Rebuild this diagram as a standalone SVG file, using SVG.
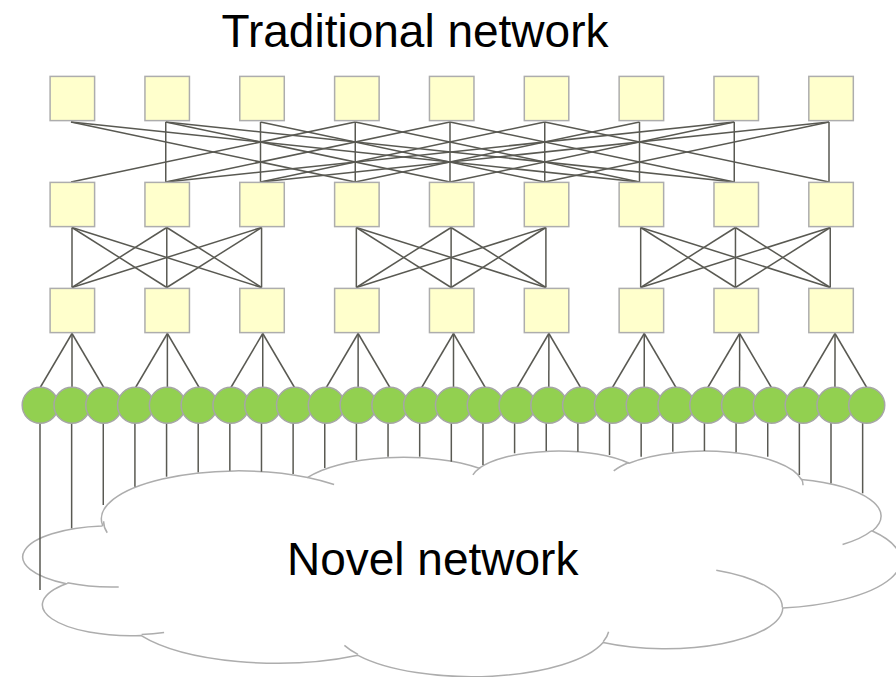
<svg xmlns="http://www.w3.org/2000/svg" width="896" height="677" viewBox="0 0 896 677">
  <style>
    .sw { fill: #FFFFCC; stroke: #ADADAD; stroke-width: 1.5; }
    .host { fill: #92D050; stroke: #A6A6A6; stroke-width: 1.5; }
    .wire line { stroke: #595952; stroke-width: 1.5; fill: none; }
    .cloud { fill: #FFFFFF; stroke: #ADADAD; stroke-width: 1.5; vector-effect: non-scaling-stroke; }
    .cloudline { fill: none; stroke: #ADADAD; stroke-width: 1.5; vector-effect: non-scaling-stroke; }
    .label { font-family: "Liberation Sans", Arial, sans-serif; font-size: 46px; fill: #000000; text-anchor: middle; }
  </style>

  <text class="label" x="415" y="47">Traditional network</text>

  <!-- cloud (drawn in a 43200 x 43200 unit box) -->
  <g id="novel-network">
    <g transform="matrix(0.0203 0 0 0.005222 23.45 450.3)">
      <path class="cloud" d="M 3900 14370 A 6753 9190 0 0 1 14004 5200 A 5333 7267 0 0 1 22455 3429 A 4365 5945 0 0 1 29832 2477 A 4857 6595 0 0 1 38317 5572 A 5333 7273 0 0 1 41818 15456 A 6775 9220 0 0 1 37404 30200 A 5785 7867 0 0 1 28555 36810 A 6752 9215 0 0 1 16480 39263 A 7720 10543 0 0 1 5801 35470 A 4360 5918 0 0 1 2112 25545 A 4345 5945 0 0 1 3862 14502 Z"/>
      <path class="cloudline" d="M 4693 26177 A 4345 5945 0 0 1 2160 25380 M 6928 34899 A 4360 5918 0 0 1 5818 35282 M 16478 39090 A 6752 9215 0 0 1 15810 37349 M 28827 34751 A 6752 9215 0 0 1 28560 36660 M 34129 22954 A 5785 7867 0 0 1 37381 30089 M 41798 15354 A 5333 7273 0 0 1 40350 18029 M 38324 5426 A 4857 6595 0 0 1 38401 6690 M 29078 3952 A 4857 6595 0 0 1 29821 2338 M 22141 4720 A 4365 5945 0 0 1 22500 3331 M 14000 5192 A 6753 9190 0 0 1 15303 6544 M 4127 15789 A 6753 9190 0 0 1 3953 13580"/>
    </g>
    <text class="label" x="432.7" y="575">Novel network</text>
  </g>

  <g id="connectors" class="wire">
    <!-- core to aggregation -->
    <line x1="71" y1="122" x2="355.25" y2="182"/>
    <line x1="71" y1="122" x2="639.5" y2="182"/>
    <line x1="165.75" y1="122" x2="165.75" y2="182"/>
    <line x1="165.75" y1="122" x2="450" y2="182"/>
    <line x1="165.75" y1="122" x2="734.25" y2="182"/>
    <line x1="260.5" y1="122" x2="260.5" y2="182"/>
    <line x1="260.5" y1="122" x2="544.75" y2="182"/>
    <line x1="355.25" y1="122" x2="71" y2="182"/>
    <line x1="355.25" y1="122" x2="355.25" y2="182"/>
    <line x1="355.25" y1="122" x2="639.5" y2="182"/>
    <line x1="450" y1="122" x2="165.75" y2="182"/>
    <line x1="450" y1="122" x2="450" y2="182"/>
    <line x1="450" y1="122" x2="734.25" y2="182"/>
    <line x1="544.75" y1="122" x2="260.5" y2="182"/>
    <line x1="544.75" y1="122" x2="544.75" y2="182"/>
    <line x1="544.75" y1="122" x2="829" y2="182"/>
    <line x1="639.5" y1="122" x2="355.25" y2="182"/>
    <line x1="639.5" y1="122" x2="639.5" y2="182"/>
    <line x1="734.25" y1="122" x2="165.75" y2="182"/>
    <line x1="734.25" y1="122" x2="450" y2="182"/>
    <line x1="734.25" y1="122" x2="734.25" y2="182"/>
    <line x1="829" y1="122" x2="260.5" y2="182"/>
    <line x1="829" y1="122" x2="544.75" y2="182"/>
    <line x1="829" y1="122" x2="829" y2="182"/>

    <!-- aggregation to edge, pod 1 -->
    <line x1="72" y1="227.5" x2="72" y2="287.5"/>
    <line x1="72" y1="227.5" x2="166.78" y2="287.5"/>
    <line x1="72" y1="227.5" x2="261.56" y2="287.5"/>
    <line x1="166.78" y1="227.5" x2="72" y2="287.5"/>
    <line x1="166.78" y1="227.5" x2="166.78" y2="287.5"/>
    <line x1="166.78" y1="227.5" x2="261.56" y2="287.5"/>
    <line x1="261.56" y1="227.5" x2="72" y2="287.5"/>
    <line x1="261.56" y1="227.5" x2="166.78" y2="287.5"/>
    <line x1="261.56" y1="227.5" x2="261.56" y2="287.5"/>
    <!-- pod 2 -->
    <line x1="356.34" y1="227.5" x2="356.34" y2="287.5"/>
    <line x1="356.34" y1="227.5" x2="451.12" y2="287.5"/>
    <line x1="356.34" y1="227.5" x2="545.9" y2="287.5"/>
    <line x1="451.12" y1="227.5" x2="356.34" y2="287.5"/>
    <line x1="451.12" y1="227.5" x2="451.12" y2="287.5"/>
    <line x1="451.12" y1="227.5" x2="545.9" y2="287.5"/>
    <line x1="545.9" y1="227.5" x2="356.34" y2="287.5"/>
    <line x1="545.9" y1="227.5" x2="451.12" y2="287.5"/>
    <line x1="545.9" y1="227.5" x2="545.9" y2="287.5"/>
    <!-- pod 3 -->
    <line x1="640.68" y1="227.5" x2="640.68" y2="287.5"/>
    <line x1="640.68" y1="227.5" x2="735.46" y2="287.5"/>
    <line x1="640.68" y1="227.5" x2="830.24" y2="287.5"/>
    <line x1="735.46" y1="227.5" x2="640.68" y2="287.5"/>
    <line x1="735.46" y1="227.5" x2="735.46" y2="287.5"/>
    <line x1="735.46" y1="227.5" x2="830.24" y2="287.5"/>
    <line x1="830.24" y1="227.5" x2="640.68" y2="287.5"/>
    <line x1="830.24" y1="227.5" x2="735.46" y2="287.5"/>
    <line x1="830.24" y1="227.5" x2="830.24" y2="287.5"/>

    <!-- edge to hosts -->
    <line x1="72" y1="333.5" x2="40.2" y2="387.5"/>
    <line x1="72" y1="333.5" x2="71.99" y2="387.5"/>
    <line x1="72" y1="333.5" x2="103.78" y2="387.5"/>
    <line x1="167.375" y1="333.5" x2="135.57" y2="387.5"/>
    <line x1="167.375" y1="333.5" x2="167.36" y2="387.5"/>
    <line x1="167.375" y1="333.5" x2="199.15" y2="387.5"/>
    <line x1="262.75" y1="333.5" x2="230.94" y2="387.5"/>
    <line x1="262.75" y1="333.5" x2="262.73" y2="387.5"/>
    <line x1="262.75" y1="333.5" x2="294.52" y2="387.5"/>
    <line x1="358.125" y1="333.5" x2="326.31" y2="387.5"/>
    <line x1="358.125" y1="333.5" x2="358.1" y2="387.5"/>
    <line x1="358.125" y1="333.5" x2="389.89" y2="387.5"/>
    <line x1="453.5" y1="333.5" x2="421.68" y2="387.5"/>
    <line x1="453.5" y1="333.5" x2="453.47" y2="387.5"/>
    <line x1="453.5" y1="333.5" x2="485.26" y2="387.5"/>
    <line x1="548.875" y1="333.5" x2="517.05" y2="387.5"/>
    <line x1="548.875" y1="333.5" x2="548.84" y2="387.5"/>
    <line x1="548.875" y1="333.5" x2="580.63" y2="387.5"/>
    <line x1="644.25" y1="333.5" x2="612.42" y2="387.5"/>
    <line x1="644.25" y1="333.5" x2="644.21" y2="387.5"/>
    <line x1="644.25" y1="333.5" x2="676" y2="387.5"/>
    <line x1="739.625" y1="333.5" x2="707.79" y2="387.5"/>
    <line x1="739.625" y1="333.5" x2="739.58" y2="387.5"/>
    <line x1="739.625" y1="333.5" x2="771.37" y2="387.5"/>
    <line x1="835" y1="333.5" x2="803.16" y2="387.5"/>
    <line x1="835" y1="333.5" x2="834.95" y2="387.5"/>
    <line x1="835" y1="333.5" x2="866.74" y2="387.5"/>

    <!-- hosts down to the cloud -->
    <line x1="40" y1="415" x2="40" y2="590"/>
    <line x1="71.64" y1="415" x2="71.64" y2="528.3"/>
    <line x1="103.28" y1="415" x2="103.28" y2="505"/>
    <line x1="134.92" y1="415" x2="134.92" y2="486.7"/>
    <line x1="166.56" y1="415" x2="166.56" y2="476.7"/>
    <line x1="198.2" y1="415" x2="198.2" y2="472.3"/>
    <line x1="229.84" y1="415" x2="229.84" y2="470.7"/>
    <line x1="261.48" y1="415" x2="261.48" y2="471.7"/>
    <line x1="293.12" y1="415" x2="293.12" y2="474"/>
    <line x1="324.76" y1="415" x2="324.76" y2="468"/>
    <line x1="356.4" y1="415" x2="356.4" y2="460"/>
    <line x1="388.04" y1="415" x2="388.04" y2="456.7"/>
    <line x1="419.68" y1="415" x2="419.68" y2="456.7"/>
    <line x1="451.32" y1="415" x2="451.32" y2="461.7"/>
    <line x1="482.96" y1="415" x2="482.96" y2="465"/>
    <line x1="514.6" y1="415" x2="514.6" y2="453.3"/>
    <line x1="546.24" y1="415" x2="546.24" y2="451"/>
    <line x1="577.88" y1="415" x2="577.88" y2="451.7"/>
    <line x1="609.52" y1="415" x2="609.52" y2="455"/>
    <line x1="641.16" y1="415" x2="641.16" y2="456.7"/>
    <line x1="672.8" y1="415" x2="672.8" y2="451.7"/>
    <line x1="704.44" y1="415" x2="704.44" y2="451"/>
    <line x1="736.08" y1="415" x2="736.08" y2="452.3"/>
    <line x1="767.72" y1="415" x2="767.72" y2="456.7"/>
    <line x1="799.36" y1="415" x2="799.36" y2="475"/>
    <line x1="831" y1="415" x2="831" y2="483.3"/>
    <line x1="862.64" y1="415" x2="862.64" y2="493.3"/>
  </g>

  <!-- core switches -->
  <g id="core-1"><rect class="sw" x="50.1" y="76.4" width="44.5" height="44.2"/></g>
  <g id="core-2"><rect class="sw" x="144.94" y="76.4" width="44.5" height="44.2"/></g>
  <g id="core-3"><rect class="sw" x="239.78" y="76.4" width="44.5" height="44.2"/></g>
  <g id="core-4"><rect class="sw" x="334.62" y="76.4" width="44.5" height="44.2"/></g>
  <g id="core-5"><rect class="sw" x="429.46" y="76.4" width="44.5" height="44.2"/></g>
  <g id="core-6"><rect class="sw" x="524.3" y="76.4" width="44.5" height="44.2"/></g>
  <g id="core-7"><rect class="sw" x="619.14" y="76.4" width="44.5" height="44.2"/></g>
  <g id="core-8"><rect class="sw" x="713.98" y="76.4" width="44.5" height="44.2"/></g>
  <g id="core-9"><rect class="sw" x="808.82" y="76.4" width="44.5" height="44.2"/></g>

  <!-- aggregation switches -->
  <g id="agg-1"><rect class="sw" x="50.1" y="182.4" width="44.5" height="44.2"/></g>
  <g id="agg-2"><rect class="sw" x="144.94" y="182.4" width="44.5" height="44.2"/></g>
  <g id="agg-3"><rect class="sw" x="239.78" y="182.4" width="44.5" height="44.2"/></g>
  <g id="agg-4"><rect class="sw" x="334.62" y="182.4" width="44.5" height="44.2"/></g>
  <g id="agg-5"><rect class="sw" x="429.46" y="182.4" width="44.5" height="44.2"/></g>
  <g id="agg-6"><rect class="sw" x="524.3" y="182.4" width="44.5" height="44.2"/></g>
  <g id="agg-7"><rect class="sw" x="619.14" y="182.4" width="44.5" height="44.2"/></g>
  <g id="agg-8"><rect class="sw" x="713.98" y="182.4" width="44.5" height="44.2"/></g>
  <g id="agg-9"><rect class="sw" x="808.82" y="182.4" width="44.5" height="44.2"/></g>

  <!-- edge switches -->
  <g id="edge-1"><rect class="sw" x="50.1" y="288.4" width="44.5" height="44.2"/></g>
  <g id="edge-2"><rect class="sw" x="144.94" y="288.4" width="44.5" height="44.2"/></g>
  <g id="edge-3"><rect class="sw" x="239.78" y="288.4" width="44.5" height="44.2"/></g>
  <g id="edge-4"><rect class="sw" x="334.62" y="288.4" width="44.5" height="44.2"/></g>
  <g id="edge-5"><rect class="sw" x="429.46" y="288.4" width="44.5" height="44.2"/></g>
  <g id="edge-6"><rect class="sw" x="524.3" y="288.4" width="44.5" height="44.2"/></g>
  <g id="edge-7"><rect class="sw" x="619.14" y="288.4" width="44.5" height="44.2"/></g>
  <g id="edge-8"><rect class="sw" x="713.98" y="288.4" width="44.5" height="44.2"/></g>
  <g id="edge-9"><rect class="sw" x="808.82" y="288.4" width="44.5" height="44.2"/></g>

  <!-- hosts -->
  <g id="host-1"><circle class="host" cx="40.2" cy="405.3" r="18"/></g>
  <g id="host-2"><circle class="host" cx="71.99" cy="405.3" r="18"/></g>
  <g id="host-3"><circle class="host" cx="103.78" cy="405.3" r="18"/></g>
  <g id="host-4"><circle class="host" cx="135.57" cy="405.3" r="18"/></g>
  <g id="host-5"><circle class="host" cx="167.36" cy="405.3" r="18"/></g>
  <g id="host-6"><circle class="host" cx="199.15" cy="405.3" r="18"/></g>
  <g id="host-7"><circle class="host" cx="230.94" cy="405.3" r="18"/></g>
  <g id="host-8"><circle class="host" cx="262.73" cy="405.3" r="18"/></g>
  <g id="host-9"><circle class="host" cx="294.52" cy="405.3" r="18"/></g>
  <g id="host-10"><circle class="host" cx="326.31" cy="405.3" r="18"/></g>
  <g id="host-11"><circle class="host" cx="358.1" cy="405.3" r="18"/></g>
  <g id="host-12"><circle class="host" cx="389.89" cy="405.3" r="18"/></g>
  <g id="host-13"><circle class="host" cx="421.68" cy="405.3" r="18"/></g>
  <g id="host-14"><circle class="host" cx="453.47" cy="405.3" r="18"/></g>
  <g id="host-15"><circle class="host" cx="485.26" cy="405.3" r="18"/></g>
  <g id="host-16"><circle class="host" cx="517.05" cy="405.3" r="18"/></g>
  <g id="host-17"><circle class="host" cx="548.84" cy="405.3" r="18"/></g>
  <g id="host-18"><circle class="host" cx="580.63" cy="405.3" r="18"/></g>
  <g id="host-19"><circle class="host" cx="612.42" cy="405.3" r="18"/></g>
  <g id="host-20"><circle class="host" cx="644.21" cy="405.3" r="18"/></g>
  <g id="host-21"><circle class="host" cx="676" cy="405.3" r="18"/></g>
  <g id="host-22"><circle class="host" cx="707.79" cy="405.3" r="18"/></g>
  <g id="host-23"><circle class="host" cx="739.58" cy="405.3" r="18"/></g>
  <g id="host-24"><circle class="host" cx="771.37" cy="405.3" r="18"/></g>
  <g id="host-25"><circle class="host" cx="803.16" cy="405.3" r="18"/></g>
  <g id="host-26"><circle class="host" cx="834.95" cy="405.3" r="18"/></g>
  <g id="host-27"><circle class="host" cx="866.74" cy="405.3" r="18"/></g>
</svg>
